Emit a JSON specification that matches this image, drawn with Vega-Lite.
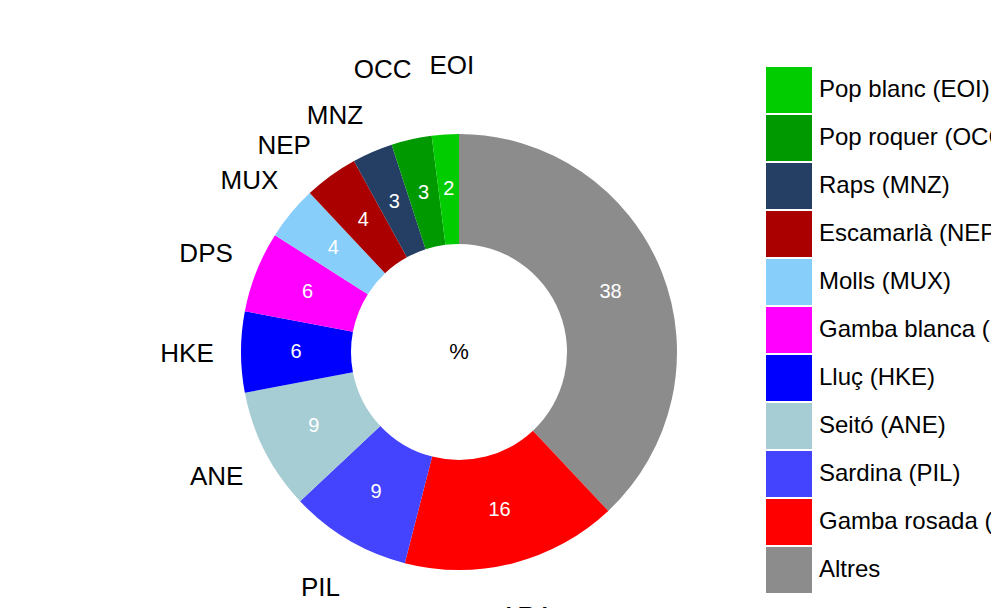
{
  "$schema": "https://vega.github.io/schema/vega-lite/v6.json",
  "width": 918,
  "height": 512,
  "padding": {"left": 0, "top": 96, "right": 73, "bottom": 0},
  "autosize": {"type": "none"},
  "background": "white",
  "config": {"view": {"stroke": null}, "font": "Liberation Sans"},
  "datasets": {
    "pie": [
      {"label": "Altres", "code": "", "value": 38, "order": 1},
      {"label": "Gamba rosada (ARA)", "code": "ARA", "value": 16, "order": 2},
      {"label": "Sardina (PIL)", "code": "PIL", "value": 9, "order": 3},
      {"label": "Seitó (ANE)", "code": "ANE", "value": 9, "order": 4},
      {"label": "Lluç (HKE)", "code": "HKE", "value": 6, "order": 5},
      {"label": "Gamba blanca (DPS)", "code": "DPS", "value": 6, "order": 6},
      {"label": "Molls (MUX)", "code": "MUX", "value": 4, "order": 7},
      {"label": "Escamarlà (NEP)", "code": "NEP", "value": 4, "order": 8},
      {"label": "Raps (MNZ)", "code": "MNZ", "value": 3, "order": 9},
      {"label": "Pop roquer (OCC)", "code": "OCC", "value": 3, "order": 10},
      {"label": "Pop blanc (EOI)", "code": "EOI", "value": 2, "order": 11}
    ],
    "center": [{"t": "%"}]
  },
  "layer": [
    {
      "data": {"name": "pie"},
      "mark": {"type": "arc", "innerRadius": 108, "outerRadius": 218},
      "encoding": {
        "theta": {"field": "value", "type": "quantitative", "stack": true},
        "order": {"field": "order", "type": "quantitative", "sort": "ascending"},
        "color": {
          "field": "label",
          "type": "nominal",
          "scale": {
            "domain": ["Pop blanc (EOI)", "Pop roquer (OCC)", "Raps (MNZ)", "Escamarlà (NEP)", "Molls (MUX)", "Gamba blanca (DPS)", "Lluç (HKE)", "Seitó (ANE)", "Sardina (PIL)", "Gamba rosada (ARA)", "Altres"],
            "range": ["#00CC00", "#009900", "#243F63", "#AA0000", "#87CEFA", "#FF00FF", "#0000FF", "#A6CDD4", "#4444FF", "#FF0000", "#8C8C8C"]
          },
          "legend": {
            "title": null,
            "orient": "none",
            "legendX": 766,
            "legendY": -29,
            "padding": 0,
            "symbolType": "square",
            "symbolSize": 2116,
            "symbolStrokeWidth": 0,
            "symbolOpacity": 1,
            "rowPadding": 2,
            "labelFontSize": 24,
            "labelFont": "Liberation Sans",
            "labelColor": "black",
            "labelOffset": 7,
            "labelLimit": 400
          }
        }
      }
    },
    {
      "data": {"name": "pie"},
      "mark": {"type": "text", "radius": 163, "fontSize": 20, "color": "white", "font": "Liberation Sans"},
      "encoding": {
        "theta": {"field": "value", "type": "quantitative", "stack": true},
        "order": {"field": "order", "type": "quantitative", "sort": "ascending"},
        "text": {"field": "value", "type": "quantitative"}
      }
    },
    {
      "data": {"name": "pie"},
      "mark": {"type": "text", "radius": 272, "dy": 2, "fontSize": 26, "color": "black", "font": "Liberation Sans"},
      "encoding": {
        "theta": {"field": "value", "type": "quantitative", "stack": true},
        "order": {"field": "order", "type": "quantitative", "sort": "ascending"},
        "text": {"condition": {"test": "indexof(['EOI','OCC','MNZ','NEP'], datum.code) < 0", "field": "code"}, "value": ""}
      }
    },
    {
      "data": {"name": "pie"},
      "mark": {"type": "text", "radius": 272, "dx": 10, "dy": -15, "fontSize": 26, "color": "black", "font": "Liberation Sans"},
      "encoding": {
        "theta": {"field": "value", "type": "quantitative", "stack": true},
        "order": {"field": "order", "type": "quantitative", "sort": "ascending"},
        "text": {"condition": {"test": "datum.code === 'EOI'", "field": "code"}, "value": ""}
      }
    },
    {
      "data": {"name": "pie"},
      "mark": {"type": "text", "radius": 272, "dx": -17, "dy": -17, "fontSize": 26, "color": "black", "font": "Liberation Sans"},
      "encoding": {
        "theta": {"field": "value", "type": "quantitative", "stack": true},
        "order": {"field": "order", "type": "quantitative", "sort": "ascending"},
        "text": {"condition": {"test": "datum.code === 'OCC'", "field": "code"}, "value": ""}
      }
    },
    {
      "data": {"name": "pie"},
      "mark": {"type": "text", "radius": 272, "dx": -16, "dy": 14, "fontSize": 26, "color": "black", "font": "Liberation Sans"},
      "encoding": {
        "theta": {"field": "value", "type": "quantitative", "stack": true},
        "order": {"field": "order", "type": "quantitative", "sort": "ascending"},
        "text": {"condition": {"test": "datum.code === 'MNZ'", "field": "code"}, "value": ""}
      }
    },
    {
      "data": {"name": "pie"},
      "mark": {"type": "text", "radius": 272, "dx": -15, "dy": 14, "fontSize": 26, "color": "black", "font": "Liberation Sans"},
      "encoding": {
        "theta": {"field": "value", "type": "quantitative", "stack": true},
        "order": {"field": "order", "type": "quantitative", "sort": "ascending"},
        "text": {"condition": {"test": "datum.code === 'NEP'", "field": "code"}, "value": ""}
      }
    },
    {
      "data": {"name": "center"},
      "mark": {"type": "text", "fontSize": 22, "color": "black", "font": "Liberation Sans"},
      "encoding": {"text": {"field": "t", "type": "nominal"}}
    }
  ]
}
